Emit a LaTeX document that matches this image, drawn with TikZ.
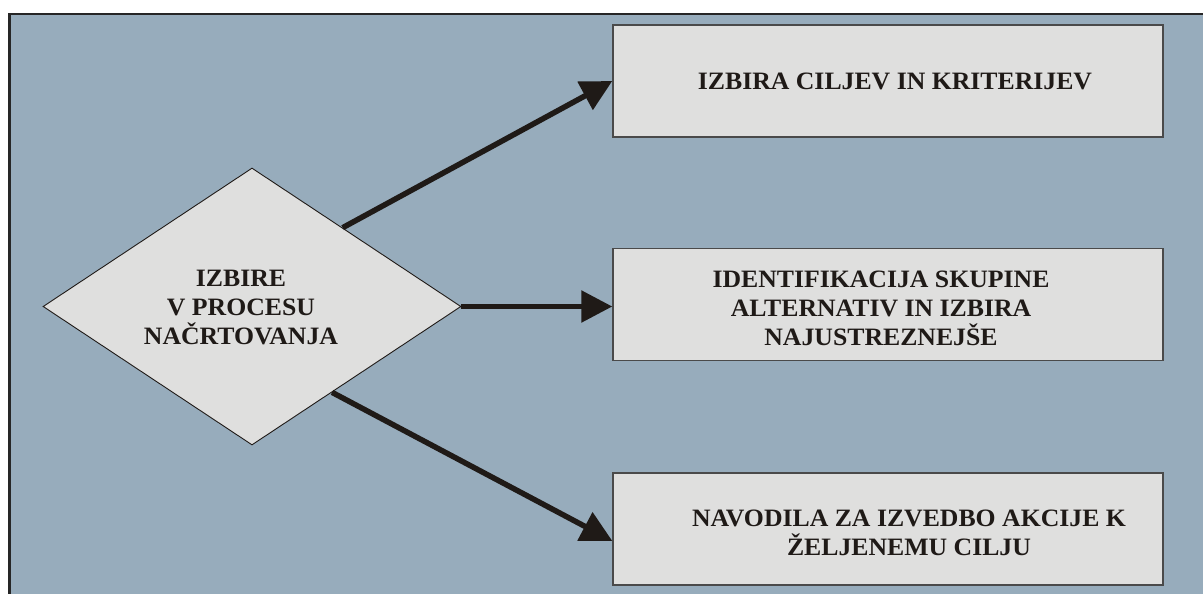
\documentclass[tikz,border=0pt]{standalone}
\usepackage{fontspec}
\usetikzlibrary{shapes.geometric,arrows.meta}
\newfontfamily\lblfont{Liberation Serif}[FakeStretch=1.03]
\definecolor{bgblue}{HTML}{97ACBC}
\definecolor{boxgray}{HTML}{DFDFDE}
\definecolor{inkdark}{HTML}{1F1A17}
\definecolor{framedark}{HTML}{262626}
\definecolor{edgegray}{HTML}{4A4A4A}
\tikzset{
  boxnode/.style={draw=edgegray, line width=1.2pt, fill=boxgray, minimum width=550pt, minimum height=112pt, inner sep=0pt},
  decnode/.style={shape=diamond, draw=inkdark, line width=0.9pt, fill=boxgray, minimum width=418pt, minimum height=277pt, inner sep=0pt},
  lbl/.style={text=inkdark, align=center, font=\lblfont\bfseries\fontsize{25}{29}\selectfont, inner sep=0pt},
  arr/.style={draw=inkdark, line width=5.5pt, -{Triangle[length=31pt,width=31pt]}}
}
\begin{document}
\begin{tikzpicture}[x=1pt,y=-1pt]
\useasboundingbox (0,0) rectangle (1203,594);
\fill[white] (0,0) rectangle (1203,594);
\draw[framedark, line width=2.6pt, fill=bgblue] (9.6,14) rectangle (1215,610);
\node[decnode] (d) at (252,306.5) {};
\node[lbl] (dt) at (241,307.5) {IZBIRE\\V PROCESU\\NAČRTOVANJA};
\node[boxnode] (b1) at (887.9,81) {};
\node[boxnode] (b2) at (887.9,304.2) {};
\node[boxnode] (b3) at (887.9,528.9) {};
\node[lbl] (t1) at (895,81) {IZBIRA CILJEV IN KRITERIJEV};
\node[lbl] (t2) at (881,308) {IDENTIFIKACIJA SKUPINE\\ALTERNATIV IN IZBIRA\\NAJUSTREZNEJŠE};
\node[lbl] (t3) at (909,533) {NAVODILA ZA IZVEDBO AKCIJE K\\ŽELJENEMU CILJU};
\draw[arr] (d.41.6) -- (b1.west);
\draw[arr] (d.east) -- (d.east -| b2.west);
\draw[arr] (d.-47.5) -- ([yshift=-12pt]b3.west);
\end{tikzpicture}
\end{document}
